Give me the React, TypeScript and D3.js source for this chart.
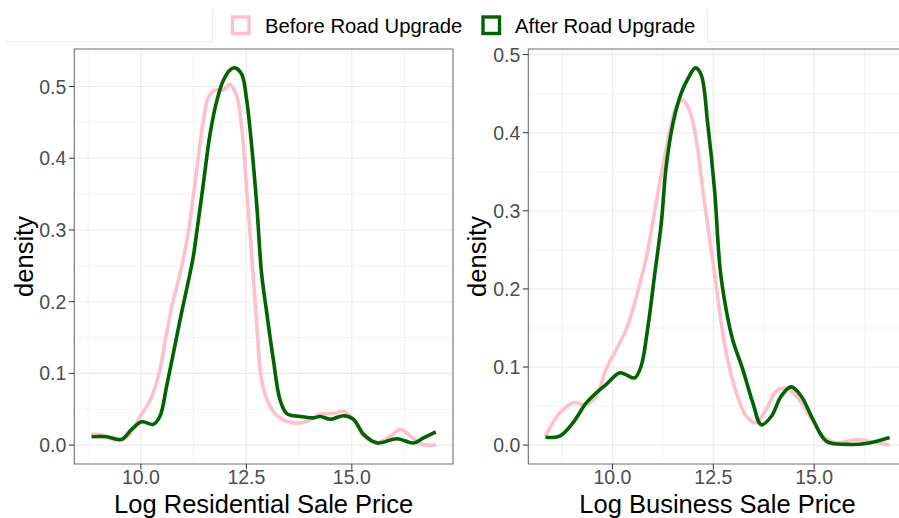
import * as d3 from 'd3'

const resBeforeX = [8.83, 9.10, 9.40, 9.65, 9.85, 9.98, 10.15, 10.29, 10.45, 10.61, 10.77, 10.89, 11.0, 11.12, 11.24, 11.36, 11.48, 11.6, 11.76, 11.95, 12.11, 12.27, 12.39, 12.51, 12.63, 12.75, 12.86, 13.06, 13.30, 13.61, 13.93, 14.25, 14.56, 14.80, 15.04, 15.28, 15.60, 15.91, 16.15, 16.39, 16.62, 16.99]
const resBeforeY = [0.015, 0.014, 0.007, 0.010, 0.025, 0.040, 0.055, 0.073, 0.105, 0.156, 0.203, 0.230, 0.258, 0.295, 0.346, 0.401, 0.452, 0.485, 0.495, 0.495, 0.503, 0.487, 0.443, 0.355, 0.2625, 0.165, 0.091, 0.054, 0.038, 0.031, 0.033, 0.043, 0.044, 0.047, 0.036, 0.0125, 0.004, 0.0125, 0.022, 0.0125, 0.002, 0.0]

const resAfterX = [8.83, 9.19, 9.54, 9.78, 10.02, 10.29, 10.45, 10.61, 10.77, 10.93, 11.08, 11.24, 11.32, 11.48, 11.64, 11.80, 11.95, 12.11, 12.23, 12.39, 12.51, 12.63, 12.75, 12.86, 12.98, 13.14, 13.30, 13.46, 13.77, 14.09, 14.25, 14.49, 14.80, 15.04, 15.28, 15.60, 16.07, 16.46, 16.70, 16.99]
const resAfterY = [0.0117, 0.0117, 0.008, 0.022, 0.0325, 0.029, 0.040, 0.082, 0.128, 0.175, 0.216, 0.262, 0.295, 0.364, 0.434, 0.480, 0.508, 0.523, 0.526, 0.517, 0.480, 0.415, 0.332, 0.240, 0.186, 0.119, 0.063, 0.044, 0.040, 0.038, 0.040, 0.036, 0.041, 0.036, 0.015, 0.003, 0.009, 0.003, 0.010, 0.0185]

const busBeforeX = [8.34, 8.69, 9.02, 9.35, 9.60, 9.84, 10.09, 10.34, 10.50, 10.67, 10.84, 10.92, 11.17, 11.41, 11.58, 11.73, 11.91, 12.08, 12.24, 12.41, 12.53, 12.65, 12.82, 13.07, 13.32, 13.56, 13.81, 14.06, 14.31, 14.56, 14.89, 15.22, 15.55, 16.04, 16.46, 16.87]
const busBeforeY = [0.0115, 0.041, 0.054, 0.052, 0.063, 0.097, 0.122, 0.148, 0.173, 0.205, 0.240, 0.262, 0.335, 0.399, 0.433, 0.442, 0.429, 0.390, 0.327, 0.263, 0.220, 0.173, 0.118, 0.067, 0.037, 0.0286, 0.0456, 0.069, 0.073, 0.0626, 0.037, 0.0115, 0.003, 0.007, 0.004, 0.0]

const busAfterX = [8.34, 8.69, 9.02, 9.35, 9.60, 9.84, 10.17, 10.34, 10.55, 10.71, 10.88, 11.04, 11.21, 11.33, 11.50, 11.70, 11.88, 12.06, 12.20, 12.36, 12.53, 12.67, 12.82, 12.98, 13.23, 13.48, 13.69, 13.94, 14.18, 14.43, 14.68, 14.97, 15.30, 15.80, 16.29, 16.87]
const busAfterY = [0.010, 0.0115, 0.0286, 0.054, 0.067, 0.0775, 0.0925, 0.090, 0.086, 0.101, 0.152, 0.216, 0.284, 0.356, 0.412, 0.450, 0.470, 0.483, 0.474, 0.412, 0.327, 0.225, 0.173, 0.135, 0.097, 0.054, 0.026, 0.037, 0.0626, 0.0746, 0.0626, 0.033, 0.005, 0.001, 0.002, 0.0098]

const seriesNames = ['Before Road Upgrade', 'After Road Upgrade']
const seriesColors = ['#FFC0CB', '#006400']
const xTicks = [10, 12.5, 15]
const yTicks = [0, 0.1, 0.2, 0.3, 0.4, 0.5]

const FONT = '"Liberation Sans", Arial, Helvetica, sans-serif'
const W = 899
const H = 518

type Pt = [number, number]
const zip = (xs: number[], ys: number[]): Pt[] => xs.map((x, i) => [x, ys[i]])

interface PanelProps {
  left: number
  right: number
  title: string
  before: Pt[]
  after: Pt[]
  yLabelX: number
}

function Panel({ left, right, title, before, after, yLabelX }: PanelProps) {
  const top = 49, bottom = 464
  const all = before.concat(after)
  const [x0, x1] = d3.extent(all, d => d[0]) as [number, number]
  const yMax = d3.max(all, d => d[1]) as number
  const xPad = (x1 - x0) * 0.05
  const x = d3.scaleLinear().domain([x0 - xPad, x1 + xPad]).range([left, right])
  const y = d3.scaleLinear().domain([-yMax * 0.05, yMax * 1.05]).range([bottom, top])

  const line = d3.line<Pt>().x(d => x(d[0])).y(d => y(d[1])).curve(d3.curveCatmullRom.alpha(0.5))

  const xMinor = [8.75, 11.25, 13.75, 16.25].filter(v => v > x.domain()[0] && v < x.domain()[1])
  const yMinor = [0.05, 0.15, 0.25, 0.35, 0.45].filter(v => v < y.domain()[1])
  const yShown = yTicks.filter(v => v < y.domain()[1])
  const clipId = `clip-${Math.round(left)}`

  return (
    <g>
      <defs>
        <clipPath id={clipId}><rect x={left} y={top} width={right - left} height={bottom - top} /></clipPath>
      </defs>
      <rect x={left} y={top} width={right - left} height={bottom - top} fill="#fff" />
      <g clipPath={`url(#${clipId})`}>
        {xMinor.map(v => <line key={'xm' + v} x1={x(v)} x2={x(v)} y1={top} y2={bottom} stroke="#EBEBEB" strokeWidth={0.6} />)}
        {yMinor.map(v => <line key={'ym' + v} x1={left} x2={right} y1={y(v)} y2={y(v)} stroke="#EBEBEB" strokeWidth={0.6} />)}
        {xTicks.map(v => <line key={'xg' + v} x1={x(v)} x2={x(v)} y1={top} y2={bottom} stroke="#EBEBEB" strokeWidth={1.1} />)}
        {yShown.map(v => <line key={'yg' + v} x1={left} x2={right} y1={y(v)} y2={y(v)} stroke="#EBEBEB" strokeWidth={1.1} />)}
        <path d={line(before) ?? ''} fill="none" stroke={seriesColors[0]} strokeWidth={3.6} strokeLinejoin="round" />
        <path d={line(after) ?? ''} fill="none" stroke={seriesColors[1]} strokeWidth={3.6} strokeLinejoin="round" />
      </g>
      <path d={`M${right},${top}H${left}V${bottom}H${right}${right < W ? 'V' + top : ''}`} fill="none" stroke="#6e6e6e" strokeWidth={1.1} />
      {yShown.map(v => (
        <g key={'yt' + v}>
          <line x1={left - 5.5} x2={left} y1={y(v)} y2={y(v)} stroke="#333" strokeWidth={1} />
          <text x={left - 8} y={y(v)} dy="0.36em" textAnchor="end" fontSize={19.5} fill="#4D4D4D" fontFamily={FONT}>{v.toFixed(1)}</text>
        </g>
      ))}
      {xTicks.map(v => (
        <g key={'xt' + v}>
          <line x1={x(v)} x2={x(v)} y1={bottom} y2={bottom + 5.5} stroke="#333" strokeWidth={1} />
          <text x={x(v)} y={484} textAnchor="middle" fontSize={19.5} fill="#4D4D4D" fontFamily={FONT}>{v.toFixed(1)}</text>
        </g>
      ))}
      <text x={(left + right) / 2} y={513} textAnchor="middle" fontSize={25.5} fill="#000" fontFamily={FONT}>{title}</text>
      <text transform={`translate(${yLabelX},${(top + bottom) / 2}) rotate(-90)`} textAnchor="middle" fontSize={25.5} fill="#000" fontFamily={FONT}>density</text>
    </g>
  )
}

export default function App() {
  const legendKeys = [232.5, 483]
  const legendText = [265, 515]
  return (
    <svg width={W} height={H} style={{ position: 'absolute', left: 0, top: 0, background: '#fff' }}>
      <rect width={W} height={H} fill="#fff" />
      {/* faint plot-background edges around the legend strip */}
      <path d="M6,41.5H212.5V9" fill="none" stroke="#EBEBEB" strokeWidth={1} />
      <path d="M707.5,9V41.5H899" fill="none" stroke="#EBEBEB" strokeWidth={1} />
      {seriesNames.map((name, i) => (
        <g key={name}>
          <rect x={legendKeys[i]} y={17} width={16.5} height={16.5} fill="#fff" stroke={seriesColors[i]} strokeWidth={3.4} />
          <text x={legendText[i]} y={33} fontSize={20.3} fill="#000" fontFamily={FONT}>{name}</text>
        </g>
      ))}
      <Panel left={74.3} right={453} title="Log Residential Sale Price" before={zip(resBeforeX, resBeforeY)} after={zip(resAfterX, resAfterY)} yLabelX={33} />
      <Panel left={528.3} right={906.8} title="Log Business Sale Price" before={zip(busBeforeX, busBeforeY)} after={zip(busAfterX, busAfterY)} yLabelX={486} />
    </svg>
  )
}
